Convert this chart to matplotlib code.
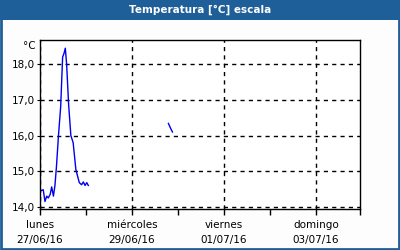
import numpy as np
import matplotlib
matplotlib.use("Agg")
import matplotlib.pyplot as plt
from matplotlib.patches import Rectangle

# -----------------------------
# data (hours since lunes 27/06/16 00:00, temperature in °C)
# -----------------------------
hours_a = [0.4, 1.7, 2.6, 3.5, 4.3, 5.3, 6.1, 7.0, 7.8, 8.6, 9.6, 10.8, 11.8,
           12.5, 13.2, 13.9, 14.9, 16.1, 17.3, 18.7, 20.5, 21.7, 22.6, 23.5,
           24.4, 25.2]
temp_a = [14.45, 14.48, 14.15, 14.30, 14.25, 14.35, 14.56, 14.30, 14.60, 15.14,
          15.97, 16.82, 18.20, 18.30, 18.45, 18.00, 16.90, 16.00, 15.80, 15.05,
          14.68, 14.62, 14.70, 14.60, 14.68, 14.60]
hours_b = [67.0, 68.0, 69.1]
temp_b = [16.34, 16.22, 16.10]

day_names = ["lunes", "miércoles", "viernes", "domingo"]
day_dates = ["27/06/16", "29/06/16", "01/07/16", "03/07/16"]
y_ticks = [14.0, 15.0, 16.0, 17.0, 18.0]

blue = "#1f5f99"

fig = plt.figure(figsize=(4, 2.5), dpi=100)
fig.patch.set_facecolor("#fdfdfd")

# title bar and frame
fig.patches.append(Rectangle((0, 1 - 20 / 250), 1, 20 / 250, transform=fig.transFigure,
                             facecolor=blue, edgecolor="none", zorder=0))
fig.patches.append(Rectangle((0.002, 0.003), 0.995, 0.995, transform=fig.transFigure,
                             facecolor="none", edgecolor=blue, linewidth=2, zorder=1))
fig.text(0.5, 1 - 10 / 250, "Temperatura [°C] escala", color="white",
         fontsize=7.5, fontweight="bold", ha="center", va="center")

ax = fig.add_axes([0.1, 0.164, 0.8, 0.676])
ax.set_facecolor("white")

x = np.array(hours_a + [np.nan] + hours_b) / 24.0
y = np.array(temp_a + [np.nan] + temp_b)
ax.plot(x, y, color="#0000ee", linewidth=1)

ax.set_xlim(0, 320 / 46)
ax.set_ylim(13.94, 18.68)

ax.set_xticks([0, 2, 4, 6])
ax.set_xticklabels([f"{n}\n{d}" for n, d in zip(day_names, day_dates)], fontsize=7.5,
                   linespacing=1.6)
ax.set_xticks([1, 3, 5, 320 / 46], minor=True)
ax.tick_params(axis="x", which="both", direction="out", length=4, width=1, pad=4)

ax.set_yticks(y_ticks)
ax.set_yticklabels([f"{v:.1f}".replace(".", ",") for v in y_ticks], fontsize=7.5)
ax.tick_params(axis="y", length=2, pad=2)

ax.grid(True, which="major", color="black", linestyle=(0, (3, 3)), linewidth=1)
for s in ax.spines.values():
    s.set_linewidth(1)

fig.text(0.1 - 0.01, 1 - 46 / 250, "°C", fontsize=7.5, ha="right", va="center")

plt.savefig("out.png", dpi=100, facecolor=fig.get_facecolor())
